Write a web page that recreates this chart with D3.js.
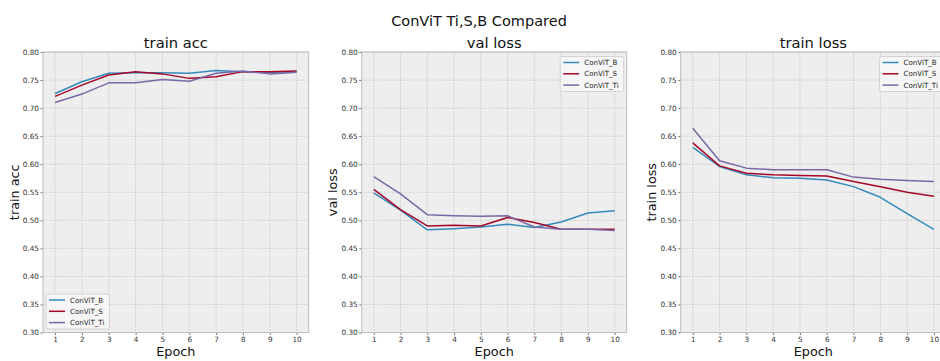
<!DOCTYPE html>
<html><head><meta charset="utf-8">
<script src="https://cdn.jsdelivr.net/npm/d3@7"></script>
<style>
html,body{margin:0;padding:0;background:#fff;}
svg{display:block;font-family:"DejaVu Sans",sans-serif;}
</style></head>
<body>
<svg id="chart" width="940" height="361"></svg>
<script>
const epochs = [1,2,3,4,5,6,7,8,9,10];
const seriesNames = ["ConViT_B","ConViT_S","ConViT_Ti"];
const colors = ["#348ABD","#A60628","#7A68A6"];
const yTicks = [0.30,0.35,0.40,0.45,0.50,0.55,0.60,0.65,0.70,0.75,0.80];

const trainAccB  = [0.726,0.747,0.762,0.763,0.763,0.762,0.767,0.765,0.764,0.765];
const trainAccS  = [0.721,0.741,0.759,0.765,0.761,0.753,0.756,0.765,0.765,0.766];
const trainAccTi = [0.710,0.725,0.745,0.745,0.751,0.748,0.762,0.766,0.761,0.764];

const valLossB  = [0.549,0.518,0.483,0.485,0.488,0.493,0.487,0.497,0.513,0.517];
const valLossS  = [0.555,0.519,0.490,0.491,0.490,0.505,0.496,0.484,0.484,0.484];
const valLossTi = [0.578,0.547,0.510,0.508,0.507,0.508,0.488,0.484,0.484,0.482];

const trainLossB  = [0.630,0.596,0.581,0.576,0.575,0.572,0.560,0.541,0.512,0.484];
const trainLossS  = [0.638,0.597,0.584,0.581,0.580,0.579,0.569,0.560,0.550,0.543];
const trainLossTi = [0.664,0.606,0.593,0.590,0.590,0.590,0.577,0.573,0.571,0.569];

const panels = [
  {title:"train acc", ylabel:"train acc", series:[trainAccB,trainAccS,trainAccTi], left:43, right:308.7, ylabX:19, legend:"ll"},
  {title:"val loss", ylabel:"val loss", series:[valLossB,valLossS,valLossTi], left:361.7, right:626.7, ylabX:336.5, legend:"ur"},
  {title:"train loss", ylabel:"train loss", series:[trainLossB,trainLossS,trainLossTi], left:680.7, right:946, ylabX:656, legend:"ur"}
];
const plotTop = 52, plotBottom = 332.5;

const svg = d3.select("#chart");

svg.append("text").attr("x",479).attr("y",26).attr("text-anchor","middle")
  .attr("font-size","14.5px").attr("fill","#111").text("ConViT Ti,S,B Compared");

panels.forEach(p => {
  const x = d3.scaleLinear().domain([0.55,10.45]).range([p.left,p.right]);
  const y = d3.scaleLinear().domain([0.30,0.80]).range([plotBottom,plotTop]);
  const g = svg.append("g");

  g.append("rect").attr("x",p.left).attr("y",plotTop).attr("width",p.right-p.left).attr("height",plotBottom-plotTop)
    .attr("fill","#eeeeee");

  // grid
  g.append("g").selectAll("line").data(epochs).join("line")
    .attr("x1",d=>x(d)).attr("x2",d=>x(d)).attr("y1",plotTop).attr("y2",plotBottom)
    .attr("stroke","#c6c6c6").attr("stroke-width",0.8).attr("stroke-dasharray","1.6,1.2");
  g.append("g").selectAll("line").data(yTicks).join("line")
    .attr("x1",p.left).attr("x2",p.right).attr("y1",d=>y(d)).attr("y2",d=>y(d))
    .attr("stroke","#c6c6c6").attr("stroke-width",0.8).attr("stroke-dasharray","1.6,1.2");

  // axes
  const xa = g.append("g").attr("transform",`translate(0,${plotBottom})`)
    .call(d3.axisBottom(x).tickValues(epochs).tickFormat(d3.format("d")).tickSize(2.5).tickPadding(2));
  const ya = g.append("g").attr("transform",`translate(${p.left},0)`)
    .call(d3.axisLeft(y).tickValues(yTicks).tickFormat(d3.format(".2f")).tickSize(2.5).tickPadding(1.5));
  [xa,ya].forEach(a=>{
    a.select(".domain").remove();
    a.selectAll(".tick line").attr("stroke","#555").attr("stroke-width",0.8);
    a.selectAll(".tick text").attr("font-size","7.3px").attr("fill","#333").attr("font-family","DejaVu Sans");
  });

  // frame
  g.append("rect").attr("x",p.left).attr("y",plotTop).attr("width",p.right-p.left).attr("height",plotBottom-plotTop)
    .attr("fill","none").attr("stroke","#bcbcbc").attr("stroke-width",1);

  // lines
  const line = d3.line().x((d,i)=>x(epochs[i])).y(d=>y(d));
  p.series.forEach((s,k)=>{
    g.append("path").datum(s).attr("d",line).attr("fill","none")
      .attr("stroke",colors[k]).attr("stroke-width",1.5).attr("stroke-linejoin","round");
  });

  // titles
  const cx = (p.left+p.right)/2;
  g.append("text").attr("x",cx).attr("y",48).attr("text-anchor","middle")
    .attr("font-size","14.7px").attr("fill","#111").text(p.title);
  g.append("text").attr("x",cx).attr("y",355.5).attr("text-anchor","middle")
    .attr("font-size","12.8px").attr("fill","#111").text("Epoch");
  g.append("text").attr("transform",`translate(${p.ylabX},${(plotTop+plotBottom)/2}) rotate(-90)`)
    .attr("text-anchor","middle").attr("font-size","12.8px").attr("fill","#111").text(p.ylabel);

  // legend
  let lx, ly, lw = 63.5, lh = 35;
  if (p.legend === "ll") { lx = p.left + 3; ly = plotBottom - 3.5 - lh; }
  else { lx = p.right - 3 - lw; ly = plotTop + 4.5; }
  const lg = g.append("g");
  lg.append("rect").attr("x",lx).attr("y",ly).attr("width",lw).attr("height",lh).attr("rx",2)
    .attr("fill","#f7f7f7").attr("fill-opacity",0.85).attr("stroke","#cccccc").attr("stroke-width",0.8);
  seriesNames.forEach((n,k)=>{
    const ry = ly + 6 + k*11.3;
    lg.append("line").attr("x1",lx+3).attr("x2",lx+19).attr("y1",ry).attr("y2",ry)
      .attr("stroke",colors[k]).attr("stroke-width",1.5);
    lg.append("text").attr("x",lx+24).attr("y",ry+2.6).attr("font-size","7.1px").attr("fill","#222").text(n);
  });
});
</script>
</body></html>
